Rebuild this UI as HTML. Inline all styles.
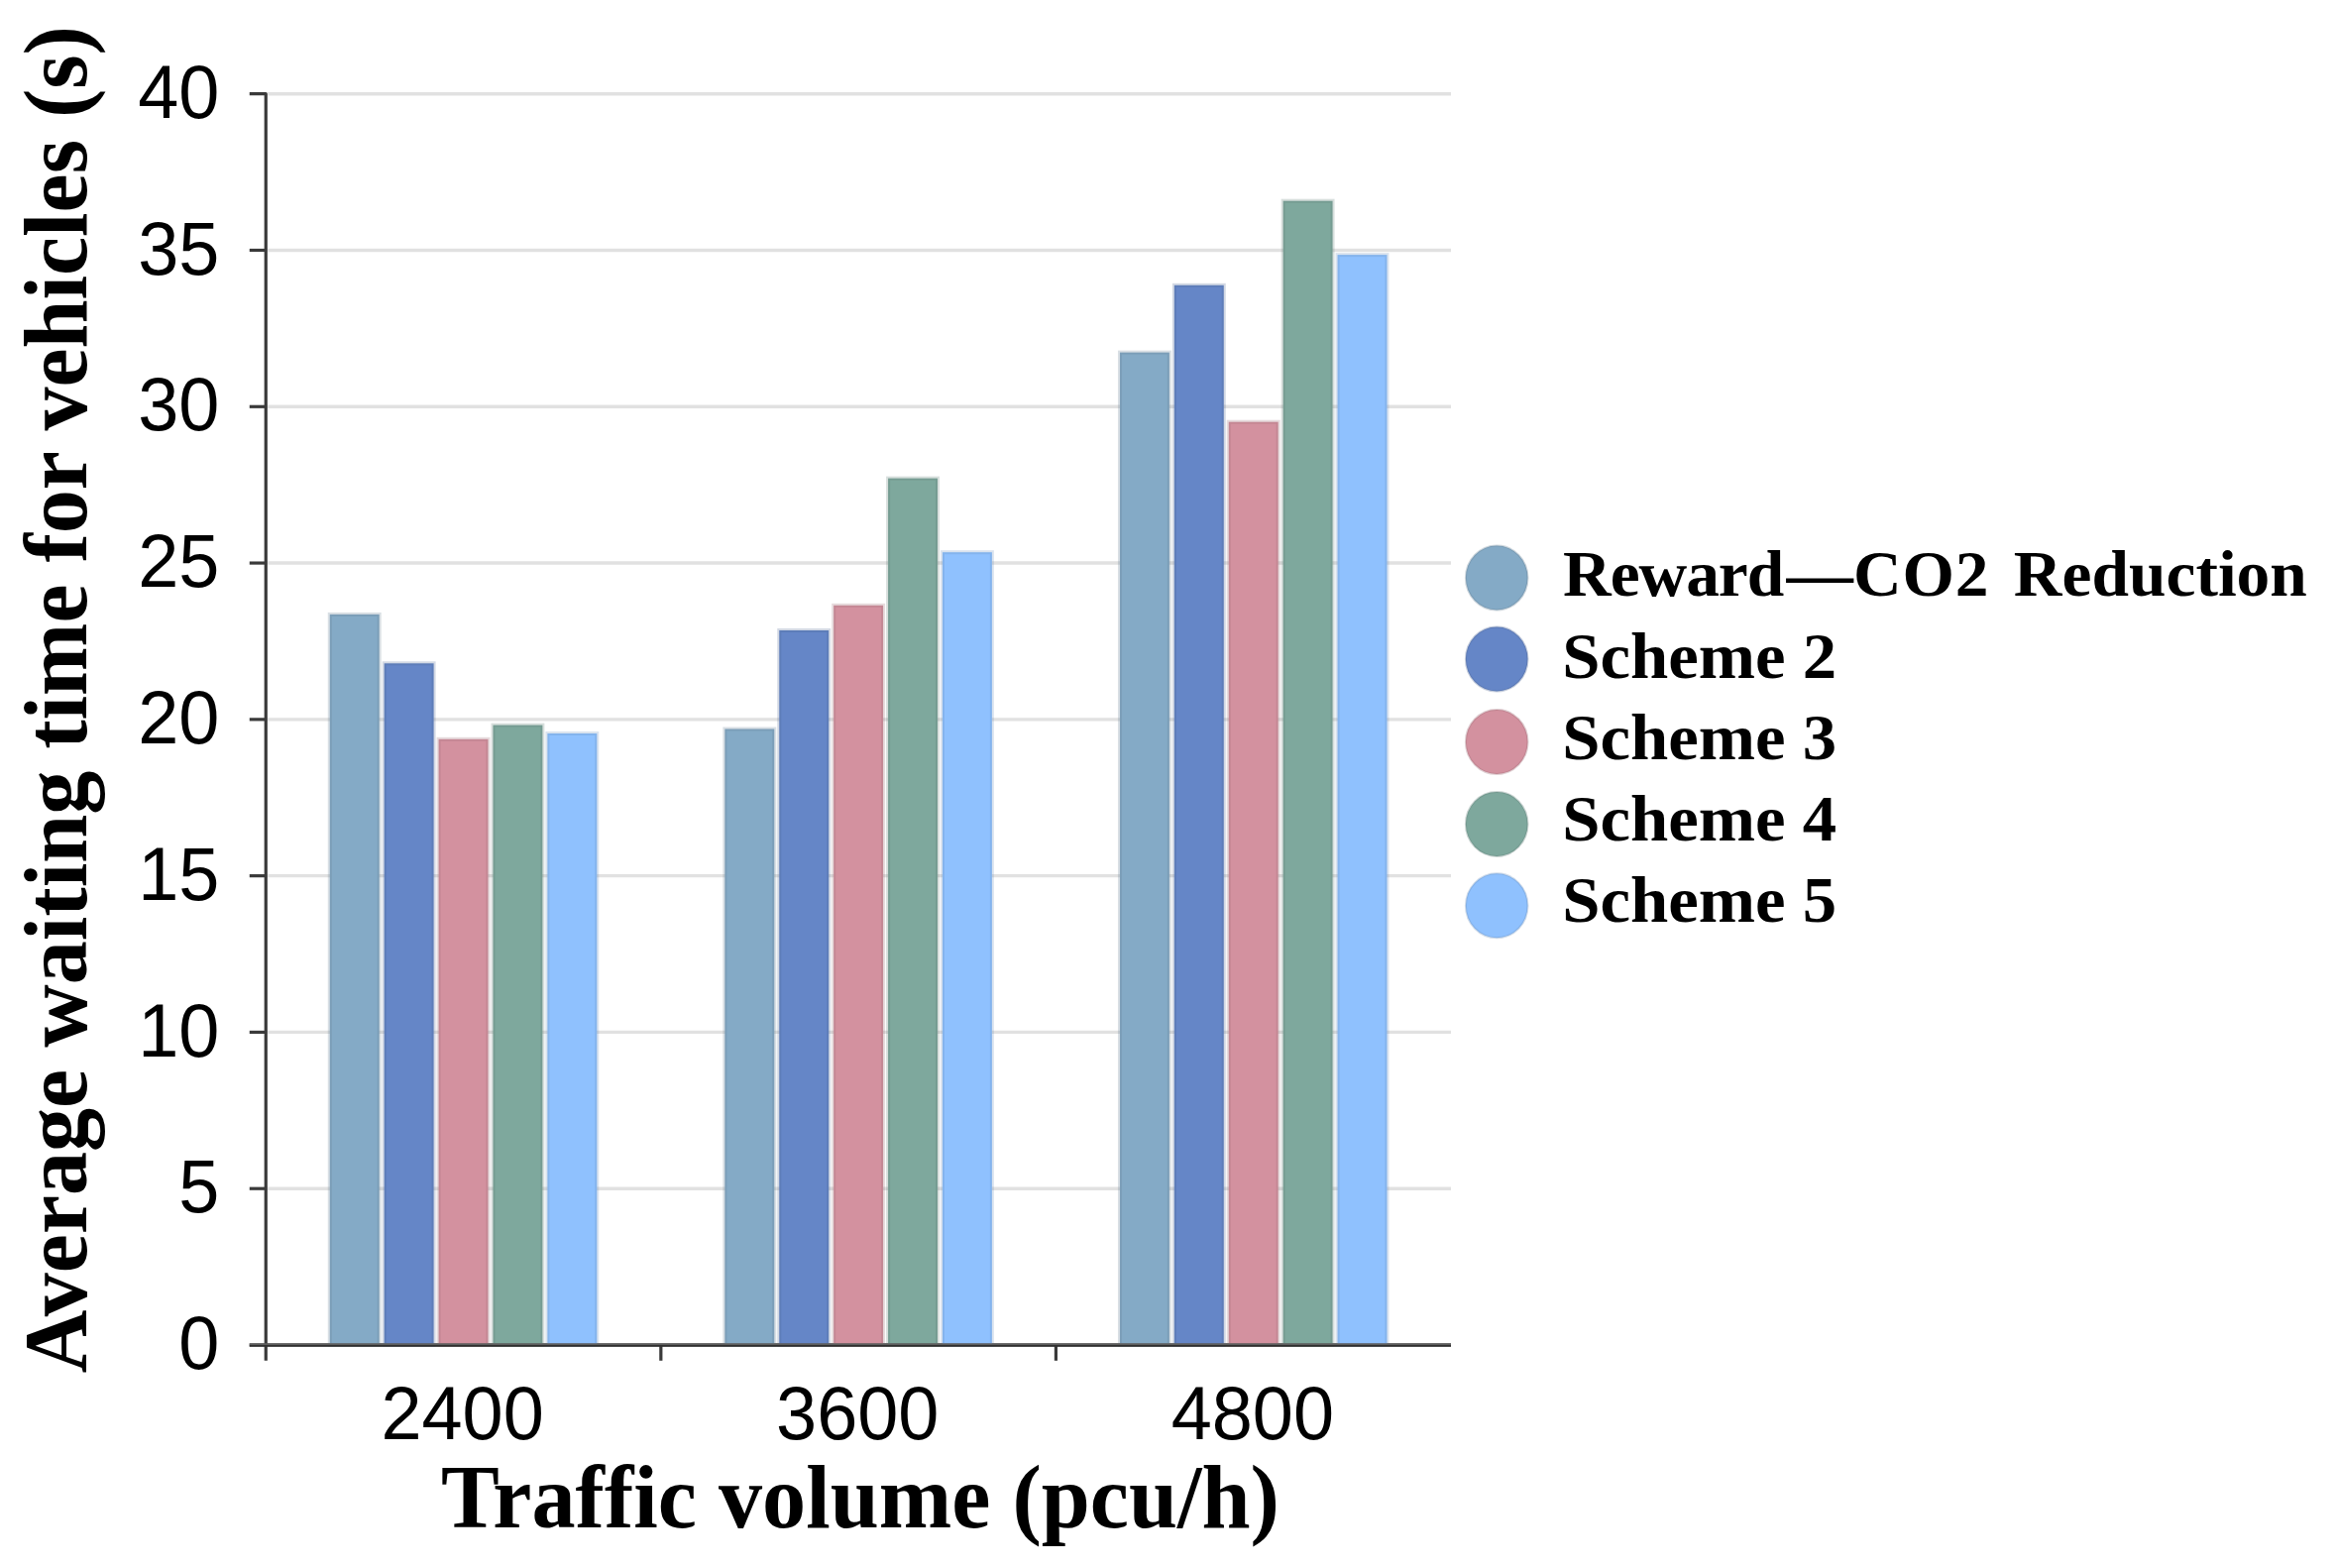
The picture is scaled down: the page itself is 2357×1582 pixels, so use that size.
<!DOCTYPE html>
<html lang="en"><head><meta charset="utf-8"><title>Average waiting time for vehicles</title>
<style>
html,body{margin:0;padding:0;background:#fff;}
body{width:2357px;height:1582px;overflow:hidden;position:relative;}
svg{position:absolute;left:0;top:0;display:block;filter:blur(0.55px);}
.sans{font-family:"Liberation Sans",Arial,Helvetica,sans-serif;fill:#000;}
.serif{font-family:"Liberation Serif","Times New Roman",Times,serif;font-weight:bold;fill:#000;}
</style></head><body>
<svg role="img" aria-label="Grouped bar chart of average waiting time for vehicles by traffic volume" width="2357" height="1582" viewBox="0 0 2357 1582">
<rect x="0" y="0" width="2357" height="1582" fill="#ffffff"/>
<g stroke="#e1e1e1" stroke-width="3.4">
<line x1="270.25" y1="1199.21" x2="1464.0" y2="1199.21"/>
<line x1="270.25" y1="1041.42" x2="1464.0" y2="1041.42"/>
<line x1="270.25" y1="883.64" x2="1464.0" y2="883.64"/>
<line x1="270.25" y1="725.85" x2="1464.0" y2="725.85"/>
<line x1="270.25" y1="568.06" x2="1464.0" y2="568.06"/>
<line x1="270.25" y1="410.28" x2="1464.0" y2="410.28"/>
<line x1="270.25" y1="252.49" x2="1464.0" y2="252.49"/>
<line x1="270.25" y1="94.70" x2="1464.0" y2="94.70"/>
</g>
<g stroke="#3a3a3a" stroke-width="3.2" fill="none" stroke-linejoin="round">
<path d="M251.75 94.70 H268.25 V1372.80"/>
<line x1="251.75" y1="1357.00" x2="1464.00" y2="1357.00"/>
<line x1="251.75" y1="1199.21" x2="268.25" y2="1199.21"/>
<line x1="251.75" y1="1041.42" x2="268.25" y2="1041.42"/>
<line x1="251.75" y1="883.64" x2="268.25" y2="883.64"/>
<line x1="251.75" y1="725.85" x2="268.25" y2="725.85"/>
<line x1="251.75" y1="568.06" x2="268.25" y2="568.06"/>
<line x1="251.75" y1="410.28" x2="268.25" y2="410.28"/>
<line x1="251.75" y1="252.49" x2="268.25" y2="252.49"/>
<line x1="666.83" y1="1357.00" x2="666.83" y2="1372.80"/>
<line x1="1065.42" y1="1357.00" x2="1065.42" y2="1372.80"/>
</g>
<g stroke-opacity="0.24" stroke-width="4">
<rect x="332.79" y="619.90" width="49.90" height="737.10" fill="#84aac6" stroke="#5f7a8e"/>
<rect x="387.69" y="669.30" width="49.90" height="687.70" fill="#6586c7" stroke="#48608f"/>
<rect x="442.59" y="745.80" width="49.90" height="611.20" fill="#d3919f" stroke="#976872"/>
<rect x="497.49" y="731.60" width="49.90" height="625.40" fill="#7ea89d" stroke="#5a7871"/>
<rect x="552.39" y="740.00" width="49.90" height="617.00" fill="#8fc1fe" stroke="#668ab6"/>
<rect x="731.38" y="735.50" width="49.90" height="621.50" fill="#84aac6" stroke="#5f7a8e"/>
<rect x="786.27" y="636.00" width="49.90" height="721.00" fill="#6586c7" stroke="#48608f"/>
<rect x="841.17" y="610.80" width="49.90" height="746.20" fill="#d3919f" stroke="#976872"/>
<rect x="896.08" y="482.60" width="49.90" height="874.40" fill="#7ea89d" stroke="#5a7871"/>
<rect x="950.98" y="557.20" width="49.90" height="799.80" fill="#8fc1fe" stroke="#668ab6"/>
<rect x="1129.96" y="355.60" width="49.90" height="1001.40" fill="#84aac6" stroke="#5f7a8e"/>
<rect x="1184.86" y="287.80" width="49.90" height="1069.20" fill="#6586c7" stroke="#48608f"/>
<rect x="1239.76" y="425.70" width="49.90" height="931.30" fill="#d3919f" stroke="#976872"/>
<rect x="1294.66" y="202.70" width="49.90" height="1154.30" fill="#7ea89d" stroke="#5a7871"/>
<rect x="1349.56" y="257.10" width="49.90" height="1099.90" fill="#8fc1fe" stroke="#668ab6"/>
</g>
<line x1="251.75" y1="1356.20" x2="1464.00" y2="1356.20" stroke="#5e5e5e" stroke-width="1.7"/>
<line x1="251.75" y1="1357.80" x2="1464.00" y2="1357.80" stroke="#303030" stroke-width="1.7"/>
<g class="sans" font-size="76.5" text-anchor="end">
<text transform="translate(221.4,1381.20) scale(0.9657,1)">0</text>
<text transform="translate(221.4,1223.41) scale(0.9657,1)">5</text>
<text transform="translate(221.4,1065.62) scale(0.9657,1)">10</text>
<text transform="translate(221.4,907.84) scale(0.9657,1)">15</text>
<text transform="translate(221.4,750.05) scale(0.9657,1)">20</text>
<text transform="translate(221.4,592.26) scale(0.9657,1)">25</text>
<text transform="translate(221.4,434.48) scale(0.9657,1)">30</text>
<text transform="translate(221.4,276.69) scale(0.9657,1)">35</text>
<text transform="translate(221.4,118.90) scale(0.9657,1)">40</text>
</g>
<g class="sans" font-size="76.5" text-anchor="middle">
<text transform="translate(466.6,1451.7) scale(0.9657,1)">2400</text>
<text transform="translate(865.2,1451.7) scale(0.9657,1)">3600</text>
<text transform="translate(1263.8,1451.7) scale(0.9657,1)">4800</text>
</g>
<text class="serif" font-size="90.5" transform="translate(445.10,1541.30) scale(0.97457,1)" xml:space="preserve">Traffic volume (pcu/h)</text>
<text class="serif" font-size="90.5" transform="translate(86.50,1385.30) rotate(-90) scale(0.97339,1)" xml:space="preserve">Average waiting time for vehicles (s)</text>
<g>
<ellipse cx="1510.2" cy="583.0" rx="31.3" ry="32.5" fill="#84aac6" stroke="#5f7a8e" stroke-opacity="0.3" stroke-width="2"/>
<ellipse cx="1510.2" cy="665.0" rx="31.3" ry="32.5" fill="#6586c7" stroke="#48608f" stroke-opacity="0.3" stroke-width="2"/>
<ellipse cx="1510.2" cy="748.5" rx="31.3" ry="32.5" fill="#d3919f" stroke="#976872" stroke-opacity="0.3" stroke-width="2"/>
<ellipse cx="1510.2" cy="831.4" rx="31.3" ry="32.5" fill="#7ea89d" stroke="#5a7871" stroke-opacity="0.3" stroke-width="2"/>
<ellipse cx="1510.2" cy="913.8" rx="31.3" ry="32.5" fill="#8fc1fe" stroke="#668ab6" stroke-opacity="0.3" stroke-width="2"/>
</g>
<text class="serif" font-size="66" transform="translate(1577.05,601.4) scale(1.022,1)" dx="0 -1.04 -1.04 -1.04 -1.04 -1.04 2.16 0.19 0.73 0.73 0 8.29" xml:space="preserve">Reward—CO2 Reduction</text>
<text class="serif" font-size="66" transform="translate(1576.30,683.60) scale(1.04170,1)" xml:space="preserve">Scheme 2</text>
<text class="serif" font-size="66" transform="translate(1576.30,765.90) scale(1.04170,1)" xml:space="preserve">Scheme 3</text>
<text class="serif" font-size="66" transform="translate(1576.30,848.10) scale(1.04170,1)" xml:space="preserve">Scheme 4</text>
<text class="serif" font-size="66" transform="translate(1576.30,930.40) scale(1.04170,1)" xml:space="preserve">Scheme 5</text>
</svg></body></html>
